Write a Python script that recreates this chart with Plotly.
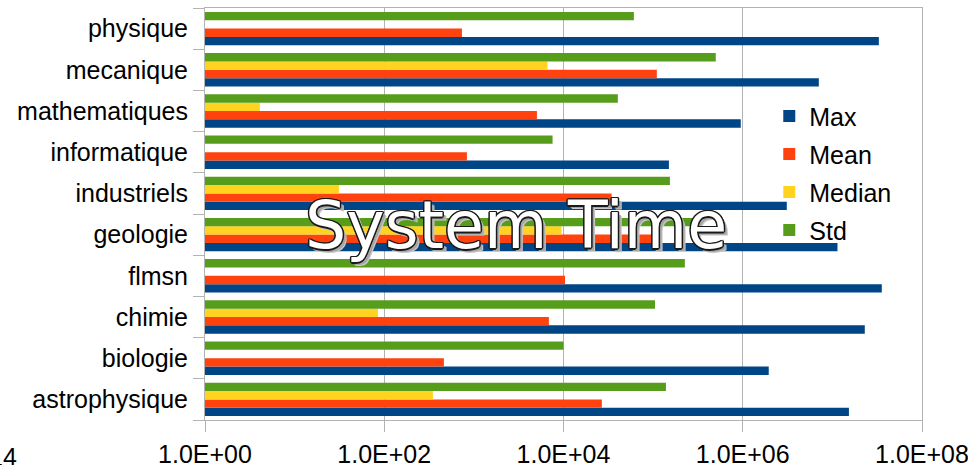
import plotly.graph_objects as go

# Departments, bottom to top
categories = ["astrophysique", "biologie", "chimie", "flmsn", "geologie",
              "industriels", "informatique", "mathematiques", "mecanique", "physique"]

# System time statistics per department (seconds)
max_vals = [1.53e7, 1.95e6, 2.3e7, 3.56e7, 1.14e7, 3.1e6, 1.5e5, 9.5e5, 7.06e6, 3.3e7]
mean_vals = [2.68e4, 463, 6870, 1.04e4, 1.05e5, 3.44e4, 836, 5050, 1.1e5, 736]
median_vals = [349, None, 85, None, 9.5e3, 31.2, None, 4.1, 6640, None]
std_vals = [1.39e5, 1.0e4, 1.05e5, 2.26e5, 3.08e5, 1.54e5, 7550, 4.04e4, 5.0e5, 6.1e4]

tick_vals = [1, 1e2, 1e4, 1e6, 1e8]
tick_text = ["1.0E+00", "1.0E+02", "1.0E+04", "1.0E+06", "1.0E+08"]

series = [
    ("Max", max_vals, "#004586"),
    ("Mean", mean_vals, "#ff420e"),
    ("Median", median_vals, "#ffd320"),
    ("Std", std_vals, "#579d1c"),
]

fig = go.Figure()
for name, vals, color in series:
    fig.add_trace(go.Bar(
        y=categories, x=vals, name=name, orientation="h",
        legendgroup=name,
        marker=dict(color=color, line=dict(width=0)),
    ))

font_family = "Liberation Sans, Arial, sans-serif"

fig.update_layout(
    width=968, height=465,
    margin=dict(l=205, r=46, t=8, b=45, autoexpand=False),
    paper_bgcolor="white", plot_bgcolor="white",
    barmode="group", bargap=0.19, bargroupgap=0,
    font=dict(family=font_family, size=25, color="#000000"),
    showlegend=True,
    legend=dict(
        x=0.787, y=0.793, xanchor="left", yanchor="top",
        bgcolor="rgba(0,0,0,0)", borderwidth=0,
        font=dict(family=font_family, size=25, color="#000000"),
        traceorder="grouped", tracegroupgap=2.5,
    ),
    xaxis=dict(
        type="log", range=[0, 8], automargin=False,
        tickvals=tick_vals, ticktext=tick_text,
        showgrid=True, gridcolor="#b3b3b3", gridwidth=1,
        showline=True, linecolor="#b3b3b3", linewidth=1, mirror=True,
        ticks="outside", ticklen=11, tickcolor="#b3b3b3",
        ticklabelstandoff=1, ticklabeloverflow="allow",
        tickfont=dict(family=font_family, size=25, color="#000000"),
        zeroline=False,
    ),
    yaxis=dict(
        type="category", categoryorder="array", categoryarray=categories,
        automargin=False, showgrid=False,
        showline=True, linecolor="#b3b3b3", linewidth=1, mirror=True,
        ticks="outside", ticklen=11, tickcolor="#b3b3b3", tickson="boundaries",
        ticklabelstandoff=11,
        tickfont=dict(family=font_family, size=25, color="#000000"),
        range=[-0.5, 9.5],
    ),
)

# Chart title drawn over the plot area with an outlined, shadowed look
outline = ", ".join(
    f"{dx}px {dy}px 0 #1a1a1a"
    for dx, dy in [(-1.5, 0), (1.5, 0), (0, -1.5), (0, 1.5),
                   (-1, -1), (1, -1), (-1, 1), (1, 1)]
)
fig.add_annotation(
    text="System Time", xref="paper", yref="paper",
    x=0.4338, y=0.472, xanchor="center", yanchor="middle",
    showarrow=False,
    font=dict(family="DejaVu Sans", size=65, color="white",
              shadow=outline + ", 3px 3px 0 #a6a6a6, 4px 4px 0 #c8c8c8"),
)

# Partial label at the left edge of the value axis
fig.add_annotation(
    text="14", xref="paper", yref="paper",
    x=-205 / 717 + 19 / 717, y=-0.09, xanchor="right", yanchor="middle",
    showarrow=False,
    font=dict(family=font_family, size=25, color="#000000"),
)

fig.write_html("out.html")
